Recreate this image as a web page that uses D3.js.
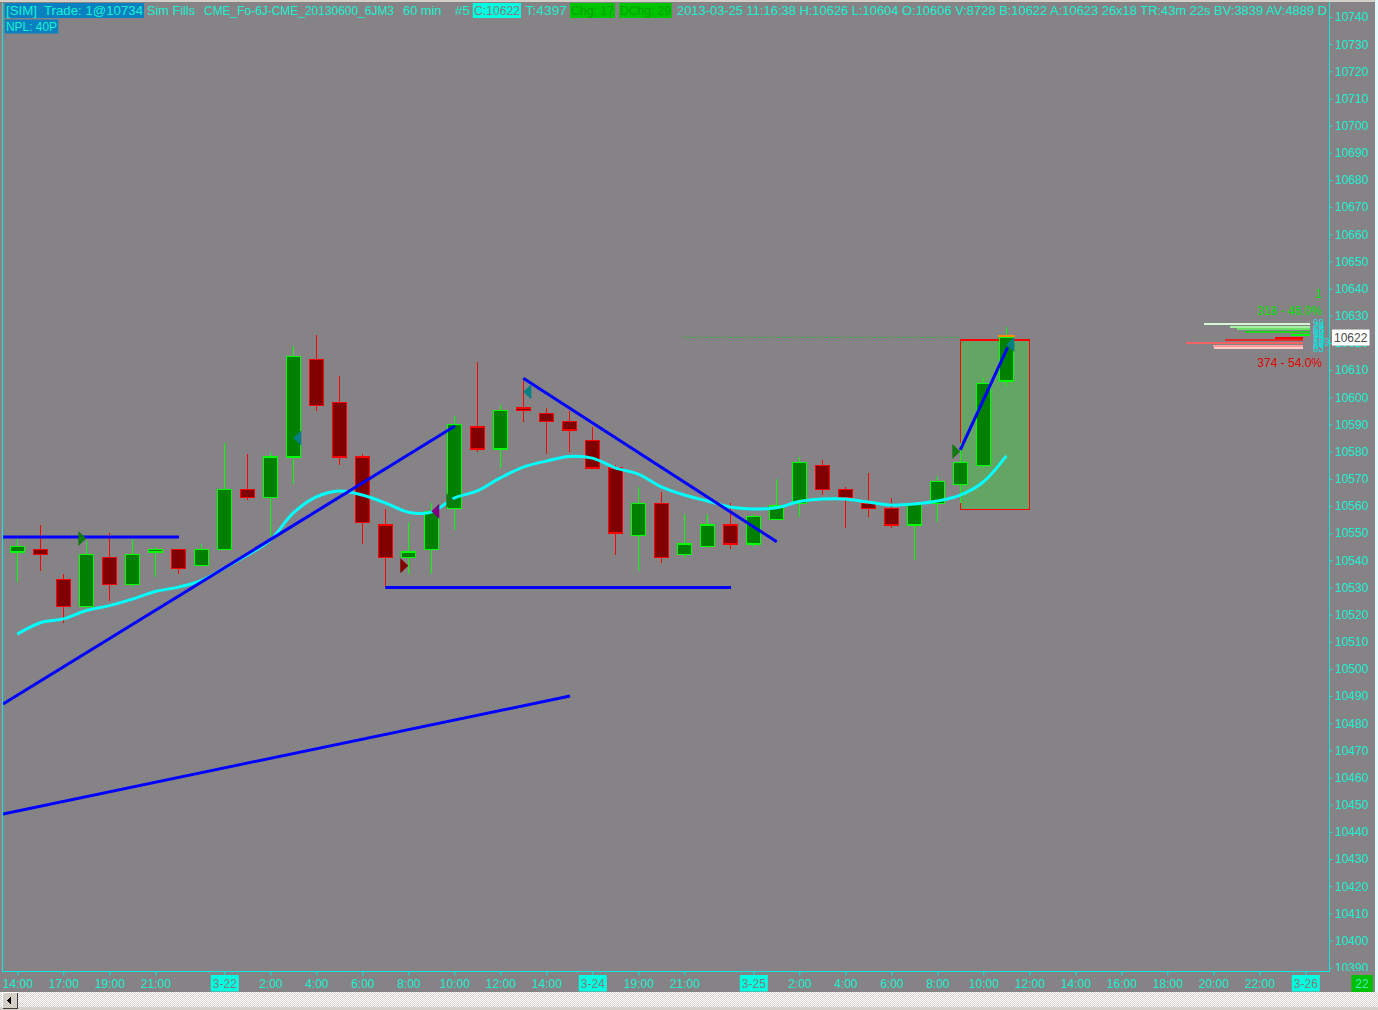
<!DOCTYPE html>
<html><head><meta charset="utf-8">
<script src="https://cdn.jsdelivr.net/npm/d3@7"></script>
<style>
html,body{margin:0;padding:0;background:#868386;overflow:hidden;}
svg{display:block;}
text{font-family:"Liberation Sans",Arial,sans-serif;}
</style></head><body>
<svg id="c" width="1378" height="1010"></svg>
<script>
// ---------------- DATA ----------------
const barTimes = ["03-21 14:00","15:00","17:00","18:00","19:00","20:00","21:00","22:00","23:00",
  "03-22 00:00","01:00","02:00","03:00","04:00","05:00","06:00","07:00","08:00","09:00","10:00","11:00","12:00","13:00","14:00","15:00",
  "03-24 17:00","18:00","19:00","20:00","21:00","22:00","23:00",
  "03-25 00:00","01:00","02:00","03:00","04:00","05:00","06:00","07:00","08:00","09:00","10:00","11:00"];
const openV  = [10543,10544,10533,10523,10541,10531,10543,10544,10538,10544,10566,10563,10578,10614,10598,10578,10553,10541,10544,10559,10589,10581,10596,10594,10591,10584,10574,10549,10561,10542,10545,10553,10546,10555,10561,10575,10566,10561,10559,10553,10561,10568,10575,10606];
const highV  = [10548,10553,10535,10547,10550,10548,10545,10544,10546,10583,10579,10580,10619,10623,10608,10579,10559,10554,10561,10593,10613,10597,10606,10596,10595,10589,10575,10567,10565,10557,10557,10561,10557,10570,10578,10577,10567,10572,10563,10561,10571,10583,10607,10626];
const lowV   = [10532,10536,10517,10522,10525,10530,10534,10535,10538,10544,10562,10549,10568,10595,10575,10546,10530,10535,10535,10551,10580,10574,10591,10579,10580,10574,10542,10536,10539,10541,10545,10544,10545,10555,10556,10564,10552,10556,10552,10540,10554,10561,10574,10604];
const closeV = [10545,10542,10523,10542,10531,10542,10544,10537,10544,10566,10563,10578,10615,10597,10578,10554,10541,10543,10558,10590,10581,10595,10595,10591,10588,10574,10550,10561,10541,10546,10553,10546,10556,10560,10576,10566,10563,10559,10553,10561,10569,10576,10605,10622];
const maV    = [10512.8,10517,10518.4,10521.5,10523.3,10525.7,10528.5,10530.1,10532.5,10537.1,10541.9,10547.4,10557.4,10563.3,10565.5,10564,10561.1,10557.7,10557.7,10562.9,10565.5,10570.3,10574.3,10576.5,10578.2,10577.6,10574,10571.7,10567,10564,10561.8,10559.6,10558.9,10559.3,10561.6,10562.5,10562.5,10561.4,10560.3,10560.7,10561.8,10564,10568.8,10578.4];

// x-axis ticks (bar slot index / label / is date)
const xTickIdx   = [0,2,4,6,9,11,13,15,17,19,21,23,25,27,29,32,34,36,38,40,42,44,46,48,50,52,54,56];
const xTickLabel = ["14:00","17:00","19:00","21:00","3-22","2:00","4:00","6:00","8:00","10:00","12:00","14:00","3-24","19:00","21:00","3-25","2:00","4:00","6:00","8:00","10:00","12:00","14:00","16:00","18:00","20:00","22:00","3-26"];
const xTickDate  = ["3-22","3-24","3-25","3-26"];
const yTickVals  = d3.range(10390, 10741, 10);

// drawn trend lines: [startIdx, startPrice, endIdx, endPrice]
const trendLines = [
  [-0.62,10548.6, 7.03,10548.6],
  [-0.62,10487.1, 19.03,10589.4],
  [16.0,10530.0, 31.03,10530.0],
  [22.0,10607.0, 33.02,10546.8],
  [-0.62,10446.6, 24.03,10490.0],
  [41.0,10580.6, 43.06,10618.4]
];
// trade markers: [barIdx, price, direction, color]
const markers = [
  [3,10548,"R","#127a12"],
  [12,10585,"L","#007f86"],
  [17,10538,"R","#800000"],
  [18,10558,"L","#800080"],
  [19,10562,"R","#127a12"],
  [22,10602,"L","#007f86"],
  [41,10580,"R","#127a12"],
  [43,10619.4,"L","#007f86"]
];
// position box [idxFrom, idxTo, priceLow, priceHigh]
const boxRange = [41, 44, 10558.7, 10621.1];
const lastPrice = 10622;
const lastLineFrom = 28.94;

// DOM (depth) : asks above, bids below
const askPrices = [10627,10626,10625,10624,10623];
const askSizes  = [98,74,68,60,18];
const askColors = ["#d6f4d6","#a4eea4","#6ee06e","#1fd21f","#00ff00"];
const bidPrices = [10622,10621,10620,10619,10618];
const bidSizes  = [26,72,109,84,83];
const bidColors = ["#ff0000","#e02a2a","#f26262","#ff9898","#ffcaca"];

// header
const header = [
  {t:"[SIM]  Trade: 1@10734", x:6, w:137, bg:"#0a80c0", bx:4.7, bw:139.3, c:"#18f0d0"},
  {t:"Sim Fills", x:147, w:48, c:"#18f0d0"},
  {t:"CME_Fo-6J-CME_20130600_6JM3", x:204, w:190, c:"#18f0d0"},
  {t:"60 min", x:403, w:38.5, c:"#18f0d0"},
  {t:"#5", x:455, w:15, c:"#18f0d0"},
  {t:"C:10622", x:474, w:46, bg:"#00ffe0", bx:472.7, bw:48.3, c:"#7e7e7e"},
  {t:"T:4397", x:525.5, w:41.5, c:"#18f0d0"},
  {t:"Chg: 17", x:571, w:43, bg:"#00c400", bx:570, bw:45, c:"#00a000"},
  {t:"DChg: 29", x:620, w:51, bg:"#00c400", bx:619.3, bw:52.4, c:"#00a000"},
  {t:"2013-03-25 11:16:38 H:10626 L:10604 O:10606 V:8728 B:10622 A:10623 26x18 TR:43m 22s BV:3839 AV:4889 D", x:677, w:650, c:"#18f0d0"}
];

// ---------------- DRAW ----------------
const W=1378,H=1010;
const CY="#18f0d0", AX="#12e6e0";
const svg=d3.select("#c");
const x=d3.scaleLinear().domain([0,56]).range([17.3,1305.3]);
const y=d3.scaleLinear().domain([10400,10740]).range([940.5,17]);

svg.append("rect").attr("width",W).attr("height",H).attr("fill","#868386");
const defs=svg.append("defs");
defs.append("clipPath").attr("id","plot").append("rect").attr("x",3).attr("y",2).attr("width",1326.5).attr("height",969.5);
defs.append("clipPath").attr("id","hdr").append("rect").attr("x",0).attr("y",0).attr("width",1329).attr("height",40);
defs.append("clipPath").attr("id","raxis").append("rect").attr("x",0).attr("y",0).attr("width",45).attr("height",971);
const pat=defs.append("pattern").attr("id","dither").attr("width",2).attr("height",2).attr("patternUnits","userSpaceOnUse");
pat.append("rect").attr("width",2).attr("height",2).attr("fill","#d6d3ce");
pat.append("rect").attr("width",1).attr("height",1).attr("fill","#ffffff");
pat.append("rect").attr("x",1).attr("y",1).attr("width",1).attr("height",1).attr("fill","#ffffff");

const plot=svg.append("g").attr("clip-path","url(#plot)");

// position box
plot.append("rect").attr("x",x(boxRange[0])).attr("y",y(boxRange[3]))
  .attr("width",x(boxRange[1])-x(boxRange[0])).attr("height",y(boxRange[2])-y(boxRange[3]))
  .attr("fill","#64a464").attr("stroke","#ff0000").attr("stroke-width",1.2).attr("shape-rendering","crispEdges");

// last price dotted line
plot.append("line").attr("x1",x(lastLineFrom)).attr("x2",x(boxRange[0])).attr("y1",y(lastPrice)).attr("y2",y(lastPrice))
  .attr("stroke","#00c800").attr("stroke-width",1).attr("stroke-dasharray","1,2");

// candles
const bars=openV.map((o,i)=>({i,o,h:highV[i],l:lowV[i],c:closeV[i],t:barTimes[i]}));
const cg=plot.append("g").attr("shape-rendering","crispEdges");
cg.selectAll("line.wick").data(bars).join("line").attr("class","wick")
  .attr("x1",d=>Math.round(x(d.i))+0.5).attr("x2",d=>Math.round(x(d.i))+0.5)
  .attr("y1",d=>y(d.h)).attr("y2",d=>y(d.l))
  .attr("stroke",d=>d.c>=d.o?"#00ff00":"#ff0000").attr("stroke-width",1.2);
cg.selectAll("rect.body").data(bars).join("rect").attr("class","body")
  .attr("x",d=>Math.round(x(d.i))-6.5).attr("width",14)
  .attr("y",d=>y(Math.max(d.o,d.c)))
  .attr("height",d=>Math.max(y(Math.min(d.o,d.c))-y(Math.max(d.o,d.c)),2))
  .attr("fill",d=>d.c>=d.o?"#008000":"#800000")
  .attr("stroke",d=>d.c>=d.o?"#00ff00":"#ff0000").attr("stroke-width",1.3);

// orange last-trade tick on current bar
plot.append("rect").attr("x",x(43)-8.6).attr("width",17.3).attr("y",y(lastPrice+0.5)-1.5).attr("height",2.6)
  .attr("fill","#ff8c00").attr("shape-rendering","crispEdges");

// moving average
plot.append("path").datum(maV)
  .attr("d",d3.line().x((d,i)=>x(i)).y(d=>y(d)).curve(d3.curveCatmullRom))
  .attr("fill","none").attr("stroke","#00ffff").attr("stroke-width",3);

// trend lines
plot.selectAll("line.tl").data(trendLines).join("line").attr("class","tl")
  .attr("x1",d=>x(d[0])).attr("y1",d=>y(d[1])).attr("x2",d=>x(d[2])).attr("y2",d=>y(d[3]))
  .attr("stroke","#0000ff").attr("stroke-width",3);

// markers
plot.selectAll("path.mk").data(markers).join("path").attr("class","mk")
  .attr("d",d=>{const cx=x(d[0]), cy=y(d[1]);
     return d[2]==="R" ? `M${cx-8},${cy-7.5}L${cx},${cy}L${cx-8},${cy+7.5}Z`
                       : `M${cx+8},${cy-7.5}L${cx},${cy}L${cx+8},${cy+7.5}Z`;})
  .attr("fill",d=>d[3]);

// DOM bars
const sz=d3.scaleLinear().domain([0,100]).range([0,107.7]);
const domG=plot.append("g").attr("shape-rendering","crispEdges");
domG.selectAll("rect.ask").data(askPrices).join("rect").attr("class","ask")
  .attr("x",(p,i)=>1310-sz(askSizes[i])).attr("width",(p,i)=>sz(askSizes[i]))
  .attr("y",p=>Math.round(y(p))-1).attr("height",2).attr("fill",(p,i)=>askColors[i]);
domG.selectAll("rect.bid").data(bidPrices).join("rect").attr("class","bid")
  .attr("x",(p,i)=>1303-sz(bidSizes[i])).attr("width",(p,i)=>sz(bidSizes[i]))
  .attr("y",p=>Math.round(y(p))-1).attr("height",2).attr("fill",(p,i)=>bidColors[i]);
const allP=askPrices.concat(bidPrices), allS=askSizes.concat(bidSizes);
plot.selectAll("text.dl").data(allP).join("text").attr("class","dl")
  .attr("x",1313).attr("y",p=>y(p)+3.5).attr("font-size",10).attr("fill","#20d8d8")
  .text((p,i)=>allS[i]);
const askTot=d3.sum(askSizes), bidTot=d3.sum(bidSizes);
plot.append("text").attr("x",1322).attr("y",298).attr("text-anchor","end").attr("font-size",12).attr("fill","#00e000").text("1");
plot.append("text").attr("x",1322).attr("y",315).attr("text-anchor","end").attr("font-size",12).attr("fill","#00e000")
  .text(`${askTot} - ${(askTot/(askTot+bidTot)*100).toFixed(1)}%`);
plot.append("text").attr("x",1322).attr("y",367).attr("text-anchor","end").attr("font-size",12).attr("fill","#e00000")
  .text(`${bidTot} - ${(bidTot/(askTot+bidTot)*100).toFixed(1)}%`);

// frame lines
svg.append("line").attr("x1",2.5).attr("x2",2.5).attr("y1",3).attr("y2",972).attr("stroke",AX);
svg.append("line").attr("x1",2).attr("x2",1330).attr("y1",971.5).attr("y2",971.5).attr("stroke",AX);
svg.append("line").attr("x1",1329.5).attr("x2",1329.5).attr("y1",0).attr("y2",972).attr("stroke",AX);

// right axis
const ra=svg.append("g").attr("transform","translate(1329.5,0)").attr("clip-path","url(#raxis)")
  .call(d3.axisRight(y).tickValues(yTickVals).tickSize(3).tickPadding(2.5).tickFormat(d3.format("d")));
ra.select(".domain").remove();
ra.selectAll(".tick line").attr("stroke",AX);
ra.selectAll(".tick text").attr("fill",CY).attr("font-size",12).attr("font-family","Liberation Sans, Arial, sans-serif");

// current price label
svg.append("rect").attr("x",1332).attr("y",y(lastPrice)-8).attr("width",37.5).attr("height",16).attr("fill","#ffffff");
svg.append("text").attr("x",1334).attr("y",y(lastPrice)+4.5).attr("font-size",12).attr("fill","#4a4a4a").text(lastPrice);

// bottom axis
const ba=svg.append("g").attr("transform","translate(0,971.5)")
  .call(d3.axisBottom(x).tickValues(xTickIdx).tickSize(4).tickPadding(4).tickFormat((d,i)=>xTickLabel[i]));
ba.select(".domain").remove();
ba.selectAll(".tick line").attr("stroke",AX);
ba.selectAll(".tick text").attr("fill",CY).attr("font-size",12).attr("font-family","Liberation Sans, Arial, sans-serif").attr("dy","0.71em");
ba.selectAll(".tick").filter((d,i)=>xTickDate.includes(xTickLabel[i])).each(function(){
  const g=d3.select(this);
  g.insert("rect","text").attr("x",-14).attr("y",3.5).attr("width",28).attr("height",16.5).attr("fill","#00ffe0");
  g.select("text").attr("fill","#7c7c7c");
});

// bottom-right box
svg.append("rect").attr("x",1351.5).attr("y",975).attr("width",21.5).attr("height",17).attr("fill","#00c000");
svg.append("text").attr("x",1362).attr("y",988).attr("text-anchor","middle").attr("font-size",12).attr("fill","#3cf0b4").text("22");

// header
const hg=svg.append("g").attr("clip-path","url(#hdr)");
header.forEach(h=>{
  if(h.bg) hg.append("rect").attr("x",h.bx).attr("y",3).attr("width",h.bw).attr("height",15).attr("fill",h.bg);
  hg.append("text").attr("x",h.x).attr("y",15).attr("font-size",12.5).attr("fill",h.c)
    .style("white-space","pre").attr("textLength",h.w).attr("lengthAdjust","spacingAndGlyphs").text(h.t);
});
hg.append("rect").attr("x",4.7).attr("y",19.5).attr("width",53.6).attr("height",14).attr("fill","#0a80c0");
hg.append("text").attr("x",6).attr("y",31).attr("font-size",12.5).attr("fill",CY).attr("textLength",51).attr("lengthAdjust","spacingAndGlyphs").text("NPL: 40P");

// window chrome
svg.append("rect").attr("x",0).attr("y",0).attr("width",W).attr("height",2).attr("fill","#d4d0c8");
svg.append("rect").attr("x",1375).attr("y",0).attr("width",3).attr("height",992).attr("fill","#e2fafa");
svg.append("rect").attr("x",0).attr("y",992).attr("width",W).attr("height",16).attr("fill","url(#dither)");
svg.append("rect").attr("x",0).attr("y",1007).attr("width",W).attr("height",3).attr("fill","#d4d0c8");
const btn=svg.append("g").attr("shape-rendering","crispEdges");
btn.append("rect").attr("x",2).attr("y",992.5).attr("width",15.5).attr("height",15.5).attr("fill","#d4d0c8");
btn.append("path").attr("d","M2.5,1008V992.5H17.5").attr("fill","none").attr("stroke","#ffffff");
btn.append("path").attr("d","M2.5,1008H17.5V992.5").attr("fill","none").attr("stroke","#404040");
btn.append("path").attr("d","M7,1000.5L10.5,996.5V1004.5Z").attr("fill","#000");
</script>
</body></html>
